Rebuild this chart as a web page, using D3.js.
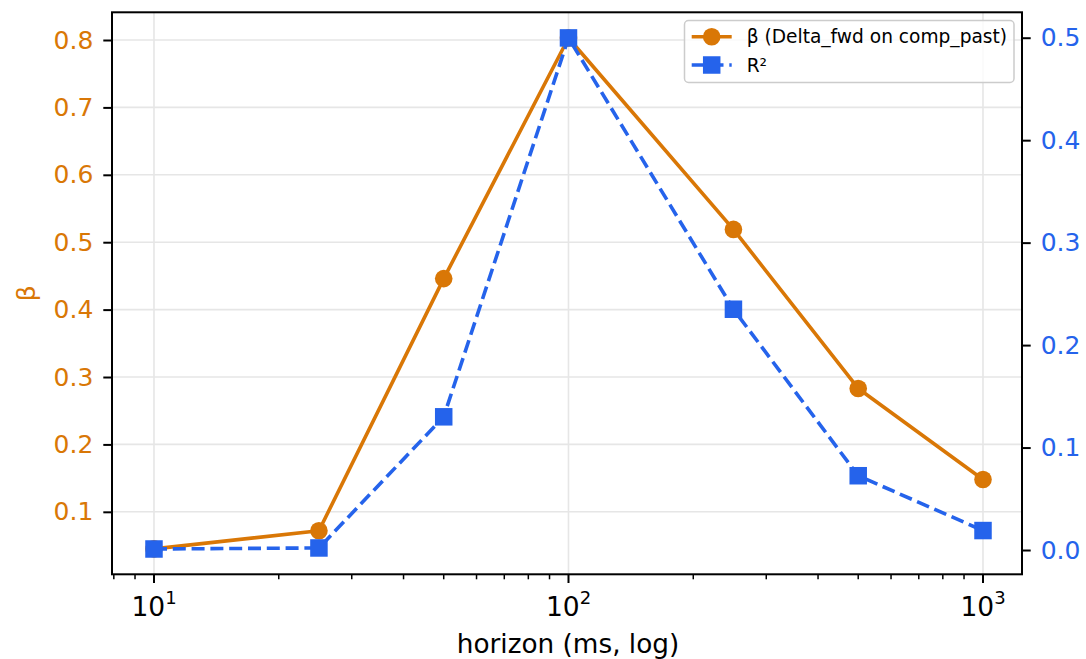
<!DOCTYPE html>
<html><head><meta charset="utf-8">
<script src="https://cdn.jsdelivr.net/npm/d3@7"></script>
<style>body{margin:0;background:#fff}svg{display:block;font-family:"DejaVu Sans",sans-serif}</style>
</head><body>
<svg id="c" width="1086" height="659"></svg>
<script>
const horizons = [10, 25, 50, 100, 250, 500, 1000];
const beta = [0.045, 0.072, 0.446, 0.803, 0.519, 0.283, 0.148];
const r2 = [0.001, 0.002, 0.130, 0.4998, 0.235, 0.0725, 0.019];
const xTicks = [10, 100, 1000];
const xTickExp = ["1", "2", "3"];
const betaTicks = [0.1, 0.2, 0.3, 0.4, 0.5, 0.6, 0.7, 0.8];
const r2Ticks = [0.0, 0.1, 0.2, 0.3, 0.4, 0.5];
const seriesNames = ["β (Delta_fwd on comp_past)", "R²"];

const ORANGE = "#d97706", BLUE = "#2563eb";
const L = 112, R = 1022, T = 12.3, B = 574.3;
const svg = d3.select("#c");

const x = d3.scaleLog().domain([Math.pow(10, 0.8987), Math.pow(10, 3.0941)]).range([L, R]);
const yL = d3.scaleLinear().domain([0.0073, 0.8411]).range([B, T]);
const yR = d3.scaleLinear().domain([-0.0237, 0.5248]).range([B, T]);

// grid
const g = svg.append("g");
g.selectAll(".hg").data(betaTicks).join("line")
  .attr("x1", L).attr("x2", R).attr("y1", d => yL(d)).attr("y2", d => yL(d))
  .attr("stroke", "#e6e6e6").attr("stroke-width", 1.6);
g.selectAll(".vg").data(xTicks).join("line")
  .attr("y1", T).attr("y2", B).attr("x1", d => x(d)).attr("x2", d => x(d))
  .attr("stroke", "#e6e6e6").attr("stroke-width", 1.6);

// lines
const idx = d3.range(horizons.length);
const LW = 3.6;
svg.append("path").datum(idx)
  .attr("d", d3.line().x(i => x(horizons[i])).y(i => yL(beta[i])))
  .attr("fill", "none").attr("stroke", ORANGE).attr("stroke-width", LW).attr("stroke-linejoin", "round");
svg.selectAll(".bc").data(idx).join("circle")
  .attr("cx", i => x(horizons[i])).attr("cy", i => yL(beta[i])).attr("r", 8.8).attr("fill", ORANGE);

svg.append("path").datum(idx)
  .attr("d", d3.line().x(i => x(horizons[i])).y(i => yR(r2[i])))
  .attr("fill", "none").attr("stroke", BLUE).attr("stroke-width", LW).attr("stroke-dasharray", "13,5.8");
const S = 17.5;
svg.selectAll(".rs").data(idx).join("rect")
  .attr("x", i => x(horizons[i]) - S/2).attr("y", i => yR(r2[i]) - S/2)
  .attr("width", S).attr("height", S).attr("fill", BLUE);

// axes
const fs = 25;
const axL = svg.append("g").attr("transform", `translate(${L},0)`)
  .call(d3.axisLeft(yL).tickValues(betaTicks).tickFormat(d3.format(".1f")).tickSize(8.7).tickPadding(10));
axL.select(".domain").remove();
axL.selectAll("line").attr("stroke", "#000").attr("stroke-width", 2);
axL.selectAll("text").attr("fill", ORANGE).attr("font-size", fs).attr("font-family", "DejaVu Sans");

const axR = svg.append("g").attr("transform", `translate(${R},0)`)
  .call(d3.axisRight(yR).tickValues(r2Ticks).tickFormat(d3.format(".1f")).tickSize(8.7).tickPadding(10));
axR.select(".domain").remove();
axR.selectAll("line").attr("stroke", "#000").attr("stroke-width", 2);
axR.selectAll("text").attr("fill", BLUE).attr("font-size", fs).attr("font-family", "DejaVu Sans");

const minor = [];
[1, 10, 100].forEach(dec => { for (let k = 2; k <= 9; k++) { const v = k * dec; if (v >= x.domain()[0] && v <= x.domain()[1] && ![10,100,1000].includes(v)) minor.push(v); } });
const axB = svg.append("g").attr("transform", `translate(0,${B})`);
axB.selectAll(".mn").data(minor).join("line")
  .attr("x1", d => x(d)).attr("x2", d => x(d)).attr("y1", 0).attr("y2", 5)
  .attr("stroke", "#000").attr("stroke-width", 1.5);
axB.selectAll(".mj").data(xTicks).join("line")
  .attr("x1", d => x(d)).attr("x2", d => x(d)).attr("y1", 0).attr("y2", 8.7)
  .attr("stroke", "#000").attr("stroke-width", 2);
const xt = axB.selectAll(".xl").data(xTicks).join("text")
  .attr("x", d => x(d)).attr("y", 41.5).attr("text-anchor", "middle")
  .attr("font-size", 26.5).attr("fill", "#000");
xt.append("tspan").text("10");
xt.append("tspan").attr("font-size", 18).attr("dy", -11.5).text((d, i) => xTickExp[i]);

// spines
svg.append("rect").attr("x", L).attr("y", T).attr("width", R - L).attr("height", B - T)
  .attr("fill", "none").attr("stroke", "#000").attr("stroke-width", 2);

// labels
svg.append("text").attr("x", 568).attr("y", 652.5).attr("text-anchor", "middle")
  .attr("font-size", 26.3).attr("fill", "#000").text("horizon (ms, log)");
svg.append("text").attr("transform", `translate(35,${(T + B) / 2}) rotate(-90)`)
  .attr("text-anchor", "middle").attr("font-size", fs).attr("fill", ORANGE).text("β");

// legend
const lg = svg.append("g");
lg.append("rect").attr("x", 684.5).attr("y", 20.5).attr("width", 329.5).attr("height", 62).attr("rx", 4)
  .attr("fill", "#fff").attr("fill-opacity", 0.8).attr("stroke", "#cccccc").attr("stroke-width", 1.5);
const rows = [{c: ORANGE, y: 36.7, m: "circle", dash: null}, {c: BLUE, y: 65, m: "square", dash: "13,5.8"}];
rows.forEach((r, i) => {
  lg.append("line").attr("x1", 691.7).attr("x2", 731.7).attr("y1", r.y).attr("y2", r.y)
    .attr("stroke", r.c).attr("stroke-width", LW).attr("stroke-dasharray", r.dash);
  if (r.m === "circle") lg.append("circle").attr("cx", 711.7).attr("cy", r.y).attr("r", 8.8).attr("fill", r.c);
  else lg.append("rect").attr("x", 711.7 - S/2).attr("y", r.y - S/2).attr("width", S).attr("height", S).attr("fill", r.c);
  lg.append("text").attr("x", 746.7).attr("y", r.y + 6.7).attr("font-size", 18.6).attr("fill", "#000").text(seriesNames[i]);
});
</script>
</body></html>
